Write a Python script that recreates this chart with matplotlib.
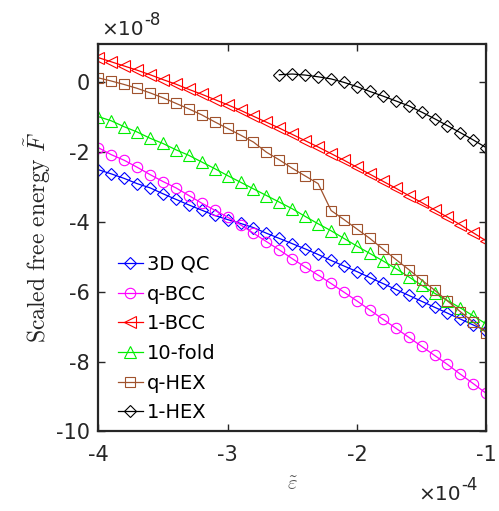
import matplotlib
matplotlib.use("Agg")
import matplotlib.pyplot as plt
from matplotlib.ticker import FixedLocator

plt.rcParams['mathtext.fontset'] = 'cm'
plt.rcParams['font.family'] = ['DejaVu Sans']

# x in units of 1e-4, y in units of 1e-8
eps = [-4.0, -3.9, -3.8, -3.7, -3.6, -3.5, -3.4, -3.3, -3.2, -3.1, -3.0,
       -2.9, -2.8, -2.7, -2.6, -2.5, -2.4, -2.3, -2.2, -2.1, -2.0,
       -1.9, -1.8, -1.7, -1.6, -1.5, -1.4, -1.3, -1.2, -1.1, -1.0]
eps_hex = [-2.6, -2.5, -2.4, -2.3, -2.2, -2.1, -2.0, -1.9, -1.8, -1.7,
           -1.6, -1.5, -1.4, -1.3, -1.2, -1.1, -1.0]

qc3d = [-2.50, -2.62, -2.75, -2.90, -3.02, -3.19, -3.35, -3.51, -3.66, -3.81, -3.93,
        -4.04, -4.16, -4.32, -4.47, -4.62, -4.77, -4.93, -5.10, -5.26, -5.42,
        -5.59, -5.76, -5.93, -6.10, -6.27, -6.44, -6.61, -6.78, -6.95, -7.12]
qbcc = [-1.87, -2.07, -2.23, -2.43, -2.64, -2.84, -3.02, -3.24, -3.46, -3.66, -3.86,
        -4.08, -4.32, -4.56, -4.80, -5.05, -5.29, -5.52, -5.76, -6.01, -6.26,
        -6.52, -6.78, -7.04, -7.30, -7.56, -7.82, -8.08, -8.36, -8.63, -8.91]
onebcc = [0.71, 0.59, 0.47, 0.35, 0.22, 0.08, -0.05, -0.20, -0.34, -0.49, -0.64,
          -0.80, -0.97, -1.14, -1.31, -1.49, -1.67, -1.85, -2.04, -2.23, -2.43,
          -2.63, -2.83, -3.03, -3.24, -3.44, -3.65, -3.86, -4.08, -4.31, -4.54]
tenfold = [-0.98, -1.10, -1.27, -1.42, -1.60, -1.75, -1.93, -2.09, -2.28, -2.47, -2.67,
           -2.86, -3.05, -3.24, -3.43, -3.62, -3.84, -4.05, -4.25, -4.47, -4.69,
           -4.90, -5.11, -5.33, -5.57, -5.81, -6.04, -6.25, -6.46, -6.69, -6.92]
qhex = [0.13, 0.04, -0.06, -0.17, -0.30, -0.44, -0.60, -0.76, -0.93, -1.13, -1.32,
        -1.51, -1.71, -2.00, -2.22, -2.46, -2.68, -2.90, -3.67, -3.93, -4.20,
        -4.47, -4.77, -5.07, -5.36, -5.66, -5.95, -6.26, -6.57, -6.87, -7.17]
onehex = [0.22, 0.24, 0.21, 0.16, 0.10, 0.00, -0.12, -0.26, -0.39, -0.53,
          -0.67, -0.85, -1.04, -1.24, -1.44, -1.65, -1.87]

labels = ['3D QC', 'q-BCC', '1-BCC', '10-fold', 'q-HEX', '1-HEX']
xticks = [-4, -3, -2, -1]
yticks = [0, -2, -4, -6, -8, -10]

fig = plt.figure(figsize=(4.99, 5.11), dpi=100)
ax = fig.add_axes([0.197, 0.1556, 0.7775, 0.7583])

series = [
    (eps, qc3d, '#0000FF', 'D', 6.5),
    (eps, qbcc, '#FF00FF', 'o', 7.5),
    (eps, onebcc, '#FF0000', '<', 8.0),
    (eps, tenfold, '#00EE00', '^', 8.0),
    (eps, qhex, '#A0522D', 's', 7.0),
    (eps_hex, onehex, '#000000', 'D', 6.5),
]
for (xs, ys, c, m, ms), lab in zip(series, labels):
    ax.plot(xs, ys, color=c, marker=m, markersize=ms, markerfacecolor='none',
            markeredgecolor=c, markeredgewidth=0.8, linewidth=0.9, label=lab)

ax.set_xlim(-4, -1)
ax.set_ylim(-10, 1.1)
ax.xaxis.set_major_locator(FixedLocator(xticks))
ax.yaxis.set_major_locator(FixedLocator(yticks))
ax.set_xticklabels([str(t) for t in xticks])
ax.set_yticklabels([str(t) for t in yticks])
ax.tick_params(direction='in', top=True, right=True, length=5, width=1.0,
               labelsize=15, colors='#262626', pad=6)
ax.tick_params(axis='x', pad=10)
for s in ax.spines.values():
    s.set_linewidth(1.6)
    s.set_color('#262626')

ax.set_ylabel(r'$\mathrm{Scaled\ free\ energy}\ \tilde{F}$', fontsize=17,
              color='#262626', labelpad=2)
ax.set_xlabel(r'$\tilde{\varepsilon}$', fontsize=15, color='#555555', labelpad=6)

# exponent labels (x10^-8 top-left, x10^-4 bottom-right)
def put_exp(xpx, ypx, exp):
    t1 = fig.text(xpx / 499, 1 - ypx / 511, '\u00d710', fontsize=14.5,
                  color='#262626', ha='left', va='baseline')
    fig.canvas.draw()
    bb = t1.get_window_extent()
    fig.text(bb.x1 / 499 + 0.001, 1 - (ypx - 10) / 511, exp, fontsize=12,
             color='#262626', ha='left', va='baseline')

put_exp(101, 35, '-8')
put_exp(418, 500, '-4')

ax.legend(loc='upper left', bbox_to_anchor=(0.03, 0.476), frameon=False,
          fontsize=14, handlelength=1.3, handletextpad=0.2, labelspacing=0.55,
          borderaxespad=0)

fig.savefig('out.png', dpi=100)
